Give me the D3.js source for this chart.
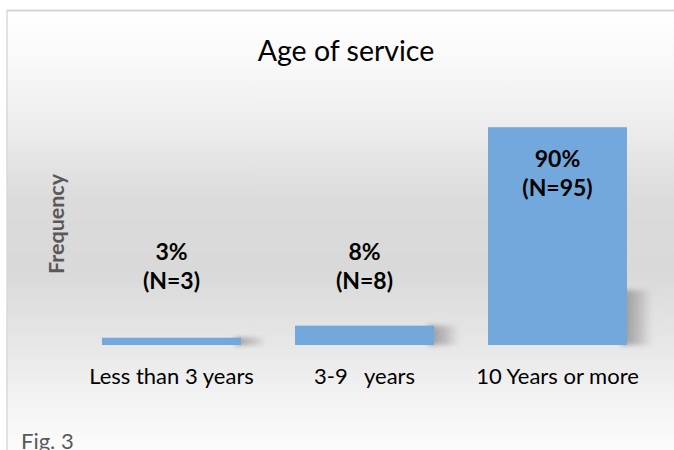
<!DOCTYPE html>
<html>
<head>
<meta charset="utf-8">
<script src="https://cdn.jsdelivr.net/npm/d3@7"></script>
<style>
  body { margin: 0; background: #fff; }
  text { font-family: Lato, "Open Sans", sans-serif; }
</style>
</head>
<body>
<div id="chart"></div>
<script>
var categories = ["Less than 3 years", "3-9   years", "10 Years or more"];
var percents = [3, 8, 90];
var counts = [3, 8, 95];

var width = 674, height = 450,
    baseline = 345;

var svg = d3.select("#chart").append("svg")
    .attr("width", width)
    .attr("height", height);

var defs = svg.append("defs");

// background wall / floor shading
var bg = defs.append("linearGradient")
    .attr("id", "bg")
    .attr("gradientUnits", "userSpaceOnUse")
    .attr("x1", 0).attr("y1", 10).attr("x2", 0).attr("y2", 450);
[[10, "#ffffff"], [60, "#f9f9f9"], [130, "#ececec"], [200, "#dbdbdb"],
 [270, "#d9d9d9"], [345, "#e7e7e7"], [400, "#f3f3f3"], [450, "#fcfcfc"]]
  .forEach(function(s) {
    bg.append("stop").attr("offset", (s[0] - 10) / 440).attr("stop-color", s[1]);
  });

var shadowGrad = defs.append("linearGradient")
    .attr("id", "shadow")
    .attr("x1", 0).attr("y1", 0).attr("x2", 1).attr("y2", 0);
shadowGrad.append("stop").attr("offset", 0).attr("stop-color", "#8a8a8a").attr("stop-opacity", 0.9);
shadowGrad.append("stop").attr("offset", 0.6).attr("stop-color", "#a8a8a8").attr("stop-opacity", 0.6);
shadowGrad.append("stop").attr("offset", 1).attr("stop-color", "#bbb").attr("stop-opacity", 0);

defs.append("filter").attr("id", "blur")
    .attr("x", "-50%").attr("y", "-50%").attr("width", "200%").attr("height", "200%")
  .append("feGaussianBlur").attr("stdDeviation", 2.5);

svg.append("rect")
    .attr("x", 7).attr("y", 10)
    .attr("width", width - 7).attr("height", height - 10)
    .attr("fill", "url(#bg)");

// frame
svg.append("line")
    .attr("x1", 7).attr("x2", width).attr("y1", 10.5).attr("y2", 10.5)
    .attr("stroke", "#d4d4d4").attr("stroke-width", 2);
svg.append("line")
    .attr("x1", 7).attr("x2", 7).attr("y1", 10).attr("y2", height)
    .attr("stroke", "#d9d9d9").attr("stroke-width", 1.5);

var x = d3.scaleBand()
    .domain(categories)
    .range([75, 654])
    .paddingInner(0.28)
    .paddingOuter(0.14);

var y = d3.scaleLinear()
    .domain([0, 100])
    .range([baseline, 103]);

var data = categories.map(function(c, i) {
  return {cat: c, pct: percents[i], n: counts[i]};
});

// soft shadows behind the bars
svg.append("g").selectAll("rect")
    .data(data)
  .enter().append("rect")
    .attr("x", function(d) { return x(d.cat) + x.bandwidth() - 6; })
    .attr("y", function(d) { return Math.max(y(d.pct), baseline - 55); })
    .attr("width", 32)
    .attr("height", function(d) { return baseline - Math.max(y(d.pct), baseline - 55); })
    .attr("fill", "url(#shadow)")
    .attr("filter", "url(#blur)");

svg.append("g").selectAll("rect")
    .data(data)
  .enter().append("rect")
    .attr("x", function(d) { return x(d.cat); })
    .attr("y", function(d) { return y(d.pct); })
    .attr("width", x.bandwidth())
    .attr("height", function(d) { return baseline - y(d.pct); })
    .attr("fill", "#72a8db");

// data labels: inside tall bars, above short ones
var labels = svg.append("g").selectAll("text")
    .data(data)
  .enter().append("text")
    .attr("text-anchor", "middle")
    .attr("font-weight", "bold")
    .attr("font-size", 23)
    .attr("fill", "#000")
    .attr("transform", function(d) {
      var top = d.pct > 50 ? y(d.pct) + 40 : baseline - 85;
      return "translate(" + (x(d.cat) + x.bandwidth() / 2) + "," + top + ")";
    });
labels.append("tspan").attr("x", 0).attr("y", 0)
    .text(function(d) { return d.pct + "%"; });
labels.append("tspan").attr("x", 0).attr("y", 29)
    .text(function(d) { return "(N=" + d.n + ")"; });

var xAxis = d3.axisBottom(x).tickSize(0).tickPadding(0);
var gx = svg.append("g")
    .attr("transform", "translate(0," + baseline + ")")
    .call(xAxis);
gx.select(".domain").remove();
gx.selectAll("text")
    .attr("dy", 0)
    .attr("y", 39)
    .attr("font-size", 22)
    .attr("font-family", "Lato, 'Open Sans', sans-serif")
    .attr("fill", "#000")
    .style("white-space", "pre");

svg.append("text")
    .attr("x", 346).attr("y", 61)
    .attr("text-anchor", "middle")
    .attr("font-size", 28.5)
    .attr("fill", "#000")
    .text("Age of service");

svg.append("text")
    .attr("transform", "translate(64,224) rotate(-90)")
    .attr("text-anchor", "middle")
    .attr("font-size", 21.5)
    .attr("font-weight", "bold")
    .attr("fill", "#595959")
    .text("Frequency");

svg.append("text")
    .attr("x", 21).attr("y", 449)
    .attr("font-size", 22)
    .attr("fill", "#595959")
    .text("Fig. 3");
</script>
</body>
</html>
